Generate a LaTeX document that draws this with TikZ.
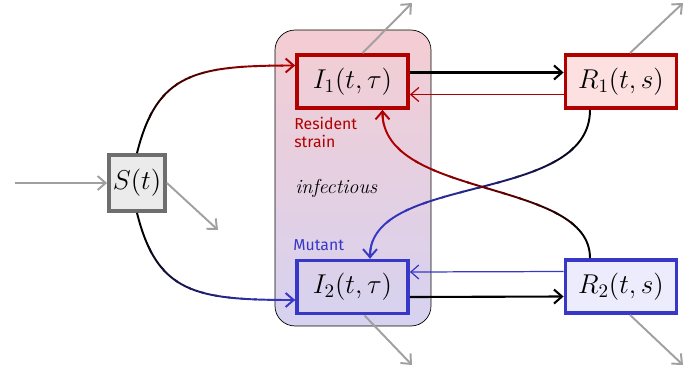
\documentclass[tikz,border=0pt]{standalone}
\usepackage{fix-cm}
\usepackage{fontspec}
\newfontfamily\labelfont{Fira Sans}
\usetikzlibrary{arrows.meta, calc}

\definecolor{resred}{HTML}{B00000}
\definecolor{mutblue}{HTML}{3838C8}
\definecolor{flowgray}{HTML}{A0A0A0}
\definecolor{sborder}{HTML}{6E6E6E}
\definecolor{sfill}{HTML}{EBEBEB}
\definecolor{ronefill}{HTML}{FDE0E0}
\definecolor{rtwofill}{HTML}{ECECFC}
\definecolor{inftop}{HTML}{F4CDD2}
\definecolor{infbot}{HTML}{D6D2F0}

% colour a path in vertical bands: black at x=#2, colour #1 at x=#3
\newcommand{\fadedraw}[4]{%
  \foreach \k in {0,...,13}{%
    \pgfmathsetmacro{\xa}{#2+(#3-#2)*(\k-0.1)/12}%
    \pgfmathsetmacro{\xb}{#2+(#3-#2)*(\k+1.1)/12}%
    \pgfmathtruncatemacro{\pc}{100*min(1,\k/11)^0.7}%
    \begin{scope}
      \clip (\xa,-20) rectangle (\xb,400);
      \draw[curve, #1!\pc!black] #4;
    \end{scope}}}

\begin{document}
\begin{tikzpicture}[
    x=0.02cm, y=-0.02cm, % pixel grid, y pointing down
    >={Straight Barb[length=1.6mm, width=2.8mm]},
    box/.style={draw, line width=2.2pt, minimum width=2.22cm, minimum height=1.06cm,
        inner sep=0pt, font=\fontsize{15.5}{18}\selectfont},
    infbox/.style={draw, thin, rounded corners=0.4cm, top color=inftop, bottom color=infbot,
        minimum width=3.12cm, minimum height=5.92cm, inner sep=0pt},
    curve/.style={line width=1.1pt, ->},
    outflow/.style={flowgray, line width=1.1pt, ->},
    tag/.style={font=\labelfont\fontsize{9}{10}\selectfont, align=left, inner sep=0pt}
]
\useasboundingbox (0,0) rectangle (691,373);

% infectious compartment
\node[infbox] (inf) at (353,178) {};

% compartments
\node[box, draw=sborder, fill=sfill, minimum width=1.12cm, minimum height=1.12cm] (s) at (137,183) {$S(t)$};
\node[box, draw=resred] (i1) at (352.5,81.5) {$I_1(t,\tau)$};
\node[box, draw=mutblue] (i2) at (352.5,287) {$I_2(t,\tau)$};
\node[box, draw=resred, fill=ronefill] (r1) at (621,81.5) {$R_1(t,s)$};
\node[box, draw=mutblue, fill=rtwofill] (r2) at (621,286.5) {$R_2(t,s)$};

% labels
\node[tag, text=resred, anchor=north west] (res) at (294,117) {Resident\\strain};
\node[tag, text=mutblue, anchor=south west] (mut) at (293,251) {Mutant};
\node[anchor=west, inner sep=0pt, font=\itshape\fontsize{11.5}{13}\selectfont] (inflab) at (295,188) {infectious};

% recovery and reinfection
\draw[->, line width=1.2pt] ($(i1.east)+(0,-9)$) -- ($(r1.west)+(0,-9)$);
\draw[->, resred, line width=0.7pt] ($(r1.west)+(0,13)$) -- ($(i1.east)+(0,13)$);
\draw[->, line width=1.2pt] ($(i2.east)+(0,10)$) -- ($(r2.west)+(0,10)$);
\draw[->, mutblue, line width=0.7pt] ($(r2.west)+(0,-15)$) -- ($(i2.east)+(0,-15)$);

% births and deaths
\coordinate (inflow) at (15,183);
\coordinate (sout) at (218,230);
\coordinate (ione) at (412,3);
\coordinate (rone) at (683,3);
\coordinate (itwo) at (412,365);
\coordinate (rtwo) at (683,365);
\draw[outflow] (inflow) -- (s.west);
\draw[outflow] (s.east) -- (sout);
\draw[outflow] ($(i1.north)+(10,0)$) -- (ione);
\draw[outflow] ($(r1.north)+(9,0)$) -- (rone);
\draw[outflow] ($(i2.south)+(12,0)$) -- (itwo);
\draw[outflow] ($(r2.south)+(9,0)$) -- (rtwo);

% infection, faded from black
\fadedraw{resred}{137}{295}{(s.north) .. controls +(20,-80) and +(-100,0) .. ($(i1.west)+(0,-16)$)}
\fadedraw{mutblue}{137}{295}{(s.south) .. controls +(20,80) and +(-100,0) .. ($(i2.west)+(0,13)$)}
\fadedraw{mutblue}{590}{370}{($(r1.south)+(-31,0)$) .. controls +(0,95) and +(0,-86) .. ($(i2.north)+(17.5,0)$)}
\fadedraw{resred}{590}{382}{($(r2.north)+(-31,0)$) .. controls +(0,-80) and +(0,90) .. ($(i1.south)+(30,0)$)}

\end{tikzpicture}
\end{document}
